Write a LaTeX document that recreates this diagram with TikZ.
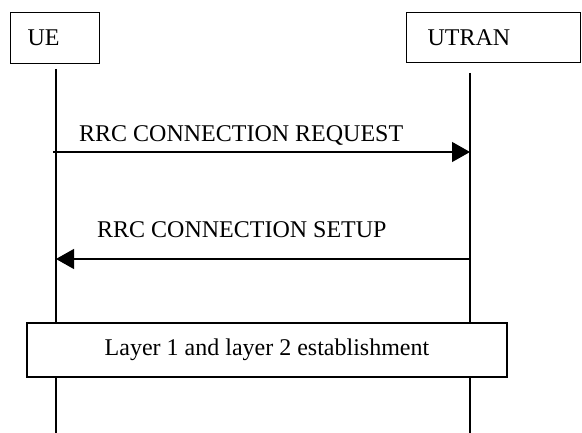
\documentclass[tikz,border=0pt]{standalone}
\usepackage{fontspec}
\setmainfont{Liberation Serif}
\usetikzlibrary{arrows.meta}
\begin{document}
\begin{tikzpicture}[x=1pt,y=-1pt,
  every node/.style={font=\fontsize{24}{28}\selectfont},
  entity/.style={draw, line width=1.3pt, align=left, minimum height=51pt, anchor=north west, inner ysep=0pt},
  life/.style={line width=1.3pt},
  msg/.style={line width=1.3pt, -{Triangle[length=18pt,width=20pt]}},
  lbl/.style={anchor=base west, inner sep=0pt},
  phase/.style={draw, line width=1.3pt, fill=white, minimum width=480pt, minimum height=54pt, inner sep=0pt}]
\useasboundingbox (0,0) rectangle (582,433);
\node[entity, text width=55pt, inner xsep=17pt] (ue) at (10,12) {UE};
\node[entity, text width=132pt, inner xsep=21pt, minimum height=50pt] (utran) at (406,12) {UTRAN};
\coordinate (uetop) at (56,69);
\coordinate (uebot) at (56,434);
\coordinate (uttop) at (470,73);
\coordinate (utbot) at (470,434);
\draw[life] (uetop) -- (uebot);
\draw[life] (uttop) -- (utbot);
\coordinate (reqs) at (53,152);
\coordinate (reqe) at (470,152);
\draw[msg] (reqs) -- (reqe);
\node[lbl] (reql) at (79,142) {RRC CONNECTION REQUEST};
\coordinate (sets) at (470,259);
\coordinate (sete) at (56,259);
\draw[msg] (sets) -- (sete);
\node[lbl] (setl) at (97,238) {RRC CONNECTION SETUP};
\node[phase] (l12) at (267,350) {Layer 1 and layer 2 establishment};
\end{tikzpicture}
\end{document}
